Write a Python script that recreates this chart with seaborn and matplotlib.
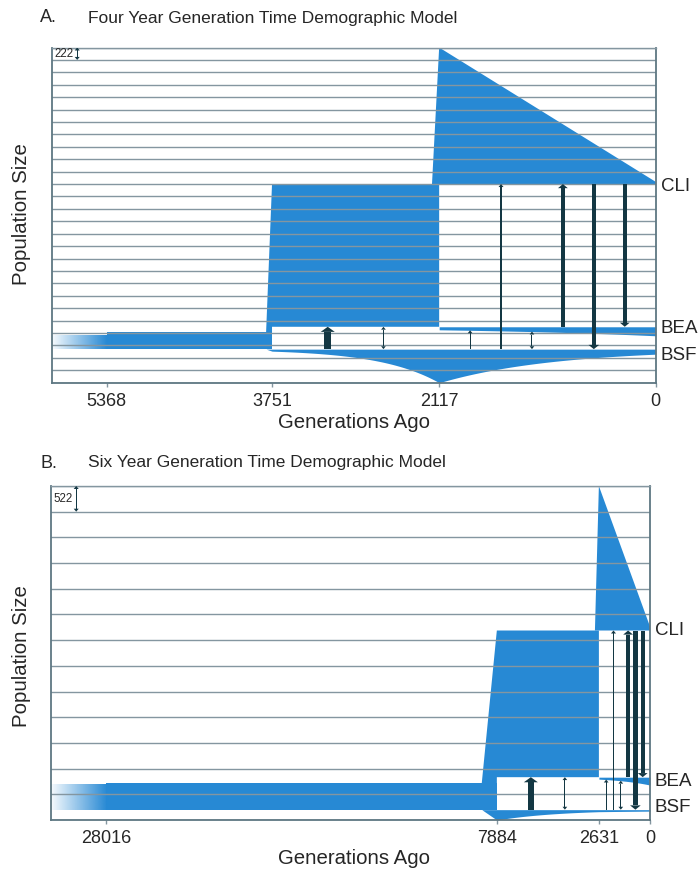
import numpy as np
import matplotlib
matplotlib.use("Agg")
import matplotlib.pyplot as plt
from matplotlib.colors import to_rgb
import seaborn as sns

sns.set_theme(style="white")
plt.rcParams["font.family"] = ["Liberation Sans", "DejaVu Sans"]

BLUE = "#2789d4"
ARROW = "#133743"
GRID = "#8496a0"
SPINE = "#5e7782"

# Event times (generations ago), used as tick positions
a_times = [5368, 3751, 2117, 0]
b_times = [28016, 7884, 2631, 0]
a_tick_labels = ["5368", "3751", "2117", "0"]
b_tick_labels = ["28016", "7884", "2631", "0"]

# Population size represented by one grid spacing
a_scale = 222
b_scale = 522

# Ancestral size: before / after the oldest event
a_anc = [240, 300]
b_anc = [520, 540]
# Size of the CLI+BEA ancestor
a_cb = 2552
b_cb = 2980
# BSF size: at its split, at the CLI/BEA split, present
a_bsf = [36, 600, 90]
b_bsf = [210, 41, 30]
# BEA size: at its split, present
a_bea = [54, 161]
b_bea = [40, 160]
# CLI size: at its split, present
a_cli = [2442, 40]
b_cli = [2936, 80]

# Migrations (same structure in both models): epoch, source, sink, relative rate
mig_epoch = [1, 1, 2, 2, 2, 2, 2, 2]
mig_src = ["BSF", "CB", "BSF", "BSF", "BEA", "BEA", "CLI", "CLI"]
mig_dst = ["CB", "BSF", "BEA", "CLI", "BSF", "CLI", "BSF", "BEA"]
mig_rate = [6.5, 1.0, 1.0, 1.2, 1.0, 4.0, 4.5, 4.0]
mig_both = [False, True, False, False, True, False, False, False]


def curve(t0, t1, n0, n1, kind, num=300):
    t = np.linspace(t0, t1, num)
    f = (t0 - t) / (t0 - t1)
    if kind == "exp":
        return t, n0 * (n1 / n0) ** f
    return t, n0 + (n1 - n0) * f


def draw_arrow(ax, t, y0, y1, w, both, px):
    dxp, dyp = px
    sgn = 1 if y1 > y0 else -1
    hl = (2.5 + 0.4 * w) * dyp
    hw = (1.5 + 0.85 * w) * dxp
    sw = w / 2 * dxp
    ya = y0 + (sgn * hl if both else 0)
    yb = y1 - sgn * hl
    ax.fill([t - sw, t + sw, t + sw, t - sw], [ya, ya, yb, yb],
            color=ARROW, lw=0, zorder=4)
    ax.fill([t - hw, t + hw, t], [yb, yb, y1], color=ARROW, lw=0, zorder=4)
    if both:
        ax.fill([t - hw, t + hw, t], [ya, ya, y0], color=ARROW, lw=0, zorder=4)


def draw_panel(fig, rect_px, xmax, n_grid, scale, times, tick_labels,
               anc, cb, bsf, bea, cli, gap, slant_cb, slant_cli,
               label_y, fig_w=700, fig_h=873):
    left, top, right, bottom = rect_px
    ax = fig.add_axes([left / fig_w, 1 - bottom / fig_h,
                       (right - left) / fig_w, (bottom - top) / fig_h])
    ytop = n_grid * scale
    px = (xmax / (right - left), ytop / (bottom - top))
    t_anc, t_s1, t_s2, t_now = times

    bsf_top = max(bsf)
    bea_top = bsf_top + gap
    cli_base = bea_top + cb

    # ancestral population, fading out into the deep past
    ax.fill_between([t_anc, t_s1], bsf_top, bsf_top + anc[1], color=BLUE, lw=0, zorder=1)
    grad = np.zeros((1, 256, 4))
    grad[..., :3] = to_rgb(BLUE)
    grad[..., 3] = np.linspace(0.04, 1.0, 256)
    ax.imshow(grad, extent=[xmax, t_anc, bsf_top, bsf_top + anc[0]],
              aspect="auto", interpolation="bilinear", zorder=1)

    # CLI+BEA ancestor
    ax.fill([t_s1 + slant_cb, t_s1, t_s2, t_s2, t_s1, t_s1],
            [bsf_top + anc[1], cli_base, cli_base, bea_top, bea_top, bsf_top + anc[1]],
            color=BLUE, lw=0, zorder=1)

    # BSF
    t1, n1 = curve(t_s1, t_s2, bsf[0], bsf[1], "exp")
    t2, n2 = curve(t_s2, t_now, bsf[1], bsf[2], "exp")
    tb = np.concatenate([[t_s1 + slant_cb], t1, t2])
    nb = np.concatenate([[0], n1, n2])
    ax.fill_between(tb, bsf_top - nb, bsf_top, color=BLUE, lw=0, zorder=1)

    # BEA
    te, ne = curve(t_s2, t_now, bea[0], bea[1], "exp")
    ax.fill_between(te, bea_top - ne, bea_top, color=BLUE, lw=0, zorder=1)

    # CLI
    ax.fill([t_s2 + slant_cli, t_s2, t_now, t_now],
            [cli_base, cli_base + cli[0], cli_base + cli[1], cli_base],
            color=BLUE, lw=0, zorder=1)

    # migration arrows, evenly spaced within each epoch
    def edge(name, other, t):
        if name == "BSF":
            return bsf_top
        if name == "CB":
            return bea_top
        if name == "CLI":
            return cli_base
        if other == "BSF":
            f = (t_s2 - t) / (t_s2 - t_now)
            return bea_top - bea[0] * (bea[1] / bea[0]) ** f
        return bea_top

    slots = {1: 0, 2: 0}
    counts = {1: mig_epoch.count(1), 2: mig_epoch.count(2)}
    for ep, s, d, r, both in zip(mig_epoch, mig_src, mig_dst, mig_rate, mig_both):
        slots[ep] += 1
        t0, t1_ = (t_s1, t_s2) if ep == 1 else (t_s2, t_now)
        t = t0 - (t0 - t1_) * slots[ep] / (counts[ep] + 1)
        draw_arrow(ax, t, edge(s, d, t), edge(d, s, t), r, both, px)

    # size scale bar
    draw_arrow(ax, xmax - 25.5 * px[0], ytop - scale, ytop, 1.2, True, px)
    ax.text(xmax - 3.0 * px[0], ytop - scale / 2, str(scale), fontsize=8.3,
            ha="left", va="center", zorder=5)

    # deme labels
    for name, y in zip(["CLI", "BEA", "BSF"], label_y):
        ax.annotate(name, xy=(1, y), xycoords=("axes fraction", "data"),
                    xytext=(3.5, 0), textcoords="offset points",
                    ha="left", va="center", fontsize=13.5, annotation_clip=False)

    ax.set_xlim(xmax, 0)
    ax.set_ylim(0, ytop)
    ax.set_yticks(np.arange(0, ytop + 1, scale))
    ax.yaxis.grid(True, color=GRID, lw=1.0)
    ax.xaxis.grid(False)
    ax.set_axisbelow(False)
    ax.tick_params(axis="y", left=False, labelleft=False)
    ax.set_xticks(times)
    ax.set_xticklabels(tick_labels)
    ax.tick_params(axis="x", bottom=True, length=3, width=1, color=GRID,
                   labelsize=13, pad=4.5)
    for sname, sp in ax.spines.items():
        sp.set_visible(True)
        sp.set_color(GRID if sname == "top" else SPINE)
        sp.set_linewidth(1.0 if sname == "top" else 1.3)
        sp.set_zorder(3)
    return ax


fig = plt.figure(figsize=(7, 8.73), dpi=100)

draw_panel(fig, (51.7, 47.5, 655.7, 382.7), 5905, 27, a_scale, a_times, a_tick_labels,
           a_anc, a_cb, a_bsf, a_bea, a_cli, gap=400, slant_cb=58, slant_cli=70,
           label_y=[3517, 978, 495])
draw_panel(fig, (50.7, 486, 650, 820), 30850, 13, b_scale, b_times, b_tick_labels,
           b_anc, b_cb, b_bsf, b_bea, b_cli, gap=660, slant_cb=776, slant_cli=204,
           label_y=[3847, 777, 244])

W, H = 700, 873
for y, tag, title in [(18, "A.", "Four Year Generation Time Demographic Model"),
                      (463, "B.", "Six Year Generation Time Demographic Model")]:
    fig.text(40 / W, 1 - y / H, tag, fontsize=13, ha="left", va="center")
    fig.text(88 / W, 1 - y / H, title, fontsize=12.5, ha="left", va="center")

for yc, xl, yl in [(214, 354, 422), (656, 354, 859)]:
    fig.text(22 / W, 1 - yc / H, "Population Size", rotation=90, fontsize=14.7,
             ha="center", va="center")
    fig.text(xl / W, 1 - yl / H, "Generations Ago", fontsize=14.7,
             ha="center", va="center")

fig.savefig("out.png", dpi=100)
